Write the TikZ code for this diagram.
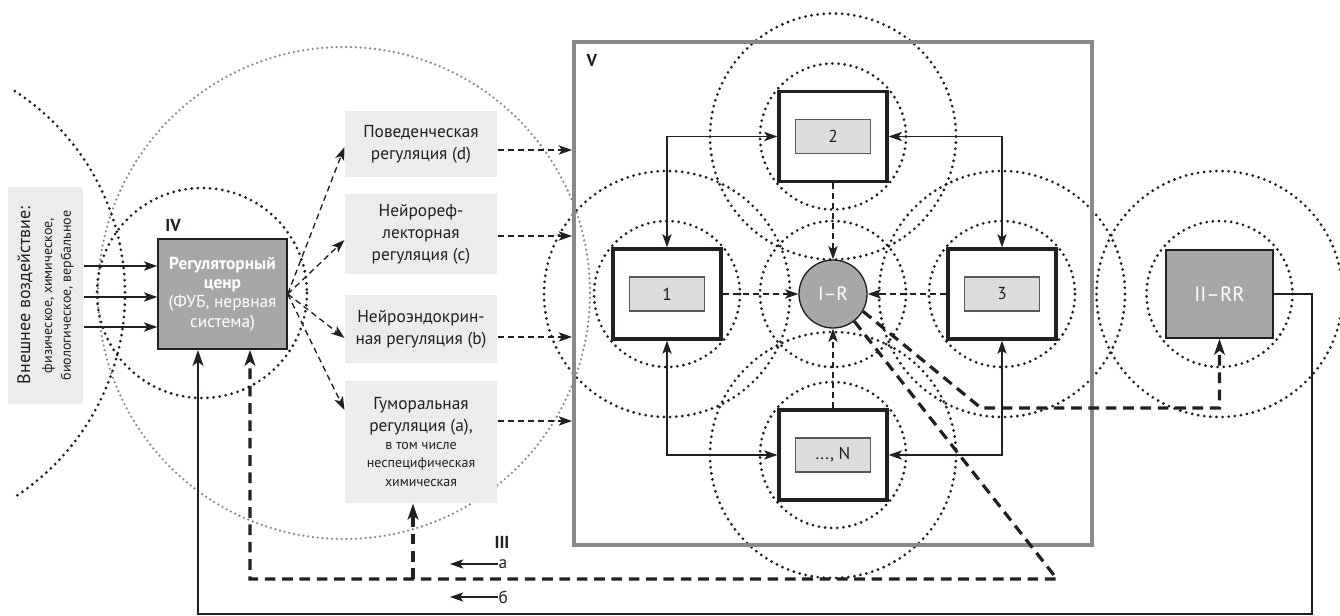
\documentclass[tikz,border=0pt]{standalone}
\usepackage{fontspec}
\setmainfont{PT Sans}
\usetikzlibrary{arrows.meta,backgrounds}
\definecolor{ink}{RGB}{35,31,32}
\definecolor{panel}{RGB}{236,236,236}
\definecolor{core}{RGB}{166,167,169}
\definecolor{cell}{RGB}{220,221,223}
\definecolor{frameg}{RGB}{137,137,140}
\newcommand\mainfont{\fontsize{13}{16.5}\selectfont}
\newcommand\smallfont{\fontsize{10.5}{13.5}\selectfont}
\tikzset{every picture/.style={line width=0.75pt}}
\tikzset{
  lbl/.style={font=\mainfont, align=center, text=ink, inner sep=0pt},
  tag/.style={font=\mainfont\bfseries, text=ink, inner sep=0pt},
  regbox/.style={lbl, fill=panel, minimum width=114pt},
  corebox/.style={fill=core, draw=ink, line width=1.1pt, text=white, align=center, inner sep=0pt},
  outbox/.style={draw=ink, line width=2.4pt, fill=white, minimum width=81pt, minimum height=67.5pt},
  cellbox/.style={lbl, draw=ink!75, line width=0.9pt, fill=cell, minimum width=56.25pt, minimum height=25.5pt},
  ring/.style={draw=ink, line width=2.3pt, line cap=round, dash pattern=on 0pt off 4.6pt},
  greyring/.style={draw=frameg, line width=1.9pt, line cap=round, dash pattern=on 0pt off 3.6pt},
  arr/.style={-{Stealth[length=10pt,width=7pt,inset=2.5pt]}, draw=ink, line width=1pt},
  twoarr/.style={{Stealth[length=10pt,width=7pt,inset=2.5pt]}-{Stealth[length=10pt,width=7pt,inset=2.5pt]}, draw=ink, line width=1pt},
  darr/.style={arr, dash pattern=on 4.5pt off 3pt},
  fbline/.style={draw=ink, line width=2.4pt, dash pattern=on 8pt off 5pt},
  fbarr/.style={fbline, -{Stealth[length=12pt,width=8pt,inset=3pt]}},
  fbsolid/.style={draw=ink, line width=2.2pt, -{Stealth[length=12pt,width=8pt,inset=3pt]}}
}

\begin{document}
\begin{tikzpicture}[x=0.75pt,y=0.75pt,yscale=-1,xscale=1]
\useasboundingbox (0,0) rectangle (1340,616);

%Shape: Circles, field of the regulatory centre
\draw[greyring] (344,293) circle[radius=246];
\draw[ring] (-117,294) ++(-57:242) arc[start angle=-57,end angle=57,radius=242];
\draw[ring] (202,293) circle[radius=105];

%Shape: Frame V
\node[draw=frameg, line width=3pt, minimum width=388.5pt, minimum height=377.25pt] (frame) at (833,293.5) {};
\node[tag, anchor=north west] (tV) at (586,54) {V};

% Text Node: external influence
\node[lbl, fill=panel, rotate=90, minimum width=162.75pt, minimum height=56.25pt] (ext) at (45.5,295.5)
  {\fontsize{13.5}{16}\selectfont Внешнее воздействие:\\[0pt] \smallfont физическое, химическое,\\[-2.5pt] \smallfont биологическое, вербальное};

%Shape: Regulatory centre
\node[corebox, font=\mainfont, minimum width=96.75pt, minimum height=82.5pt] (reg) at (222.5,294)
  {\textbf{Регуляторный}\\[-2pt]\textbf{ценр}\\[-2pt](ФУБ, нервная\\[-2pt]система)};
\node[tag] (tIV) at (173,225) {IV};

% Text Node: kinds of regulation
\node[regbox, minimum height=49.5pt] (dreg) at (421,144) {Поведенческая\\регуляция (d)};
\node[regbox, minimum height=60pt] (creg) at (421,234) {Нейрореф-\\лекторная\\регуляция (c)};
\node[regbox, minimum height=51pt] (breg) at (421,329) {Нейроэндокрин-\\ная регуляция (b)};
\node[regbox, minimum height=91.5pt] (areg) at (421,442)
  {Гуморальная\\регуляция (а),\\[-3pt] \smallfont в том числе\\[-2.5pt] \smallfont неспецифическая\\[-2.5pt] \smallfont химическая};

%Shape: Units 1, 2, 3, ..., N
\node[outbox] (o1) at (667,294) {};
\node[cellbox] (c1) at (o1) {1};
\node[outbox] (o2) at (833,136.5) {};
\node[cellbox] (c2) at (o2) {2};
\node[outbox] (o3) at (1002,294) {};
\node[cellbox] (c3) at (o3) {3};
\node[outbox] (oN) at (833,455) {};
\node[cellbox] (cN) at (oN) {..., N};

%Shape: I-R and II-RR
\node[circle, fill=core, draw=ink, line width=1pt, minimum size=51pt, inner sep=0pt, text=white, font=\fontsize{14.5}{16}\selectfont] (ir) at (833,294) {I–R};
\node[corebox, font=\fontsize{15.5}{18}\selectfont, minimum width=80.25pt, minimum height=66pt] (rr) at (1219.5,294) {II–RR};

%Shape: dotted fields round the units
\begin{scope}[on background layer]
\foreach \u in {o1,o2,o3,oN,ir,rr}
  \draw[ring] (\u) circle[radius=73];
\foreach \u in {o1,o2,o3,oN,rr}
  \draw[ring] (\u) circle[radius=123];
\end{scope}

%Straight Lines: external influence
\foreach \y in {266,297,327}
  \draw[arr] (ext.south |- 0,\y) -- (reg.west |- 0,\y);

%Straight Lines: regulatory centre to the kinds of regulation
\draw[darr] (reg.east) -- (dreg.west |- 0,147);
\draw[darr] (reg.east) -- (creg.west |- 0,240);
\draw[darr] (reg.east) -- (breg.west |- 0,338);
\draw[darr] (reg.east) -- (areg.west |- 0,410);
\draw[darr] (dreg.east |- 0,150) -- (frame.west |- 0,150);
\draw[darr] (creg.east |- 0,236) -- (frame.west |- 0,236);
\draw[darr] (breg.east |- 0,337) -- (frame.west |- 0,337);
\draw[darr] (areg.east |- 0,421) -- (frame.west |- 0,421);

%Straight Lines: links between the units
\draw[twoarr] (o1.north) |- (o2.west);
\draw[twoarr] (o2.east) -| (o3.north);
\draw[twoarr] (o1.south) |- (oN.west);
\draw[twoarr] (o3.south) |- (oN.east);
\draw[darr] (o1.east) -- (ir.west);
\draw[darr] (o3.west) -- (ir.east);
\draw[darr] (o2.south) -- (ir.north);
\draw[darr] (oN.north) -- (ir.south);

%Straight Lines: feedback
\coordinate (kA) at (1057,579);
\coordinate (kB) at (981,408);
\coordinate (fbL) at (250,579);
\coordinate (fbA) at (413,579);
\coordinate (fbR) at (1312,614);
\coordinate (fbS) at (198,614);
\draw[fbarr] (ir.-52) -- (kA) -- (fbL) -- (fbL |- reg.south);
\draw[fbarr] (fbA) -- (fbA |- areg.south);
\draw[fbarr] (ir.-30) -- (kB) -| (rr.south);
\draw[fbsolid] (rr.east) -| (fbR) -- (fbS) -- (fbS |- reg.south);

% Text Node: legend
\node[tag] (tIII) at (502,542) {III};
\node[lbl, anchor=west] (la) at (498,564) {а};
\node[lbl, anchor=west] (lb) at (498,597) {б};
\coordinate (la0) at (450,564);
\coordinate (lb0) at (450,597);
\draw[arr] (la.west) -- (la0);
\draw[arr] (lb.west) -- (lb0);

\end{tikzpicture}
\end{document}
